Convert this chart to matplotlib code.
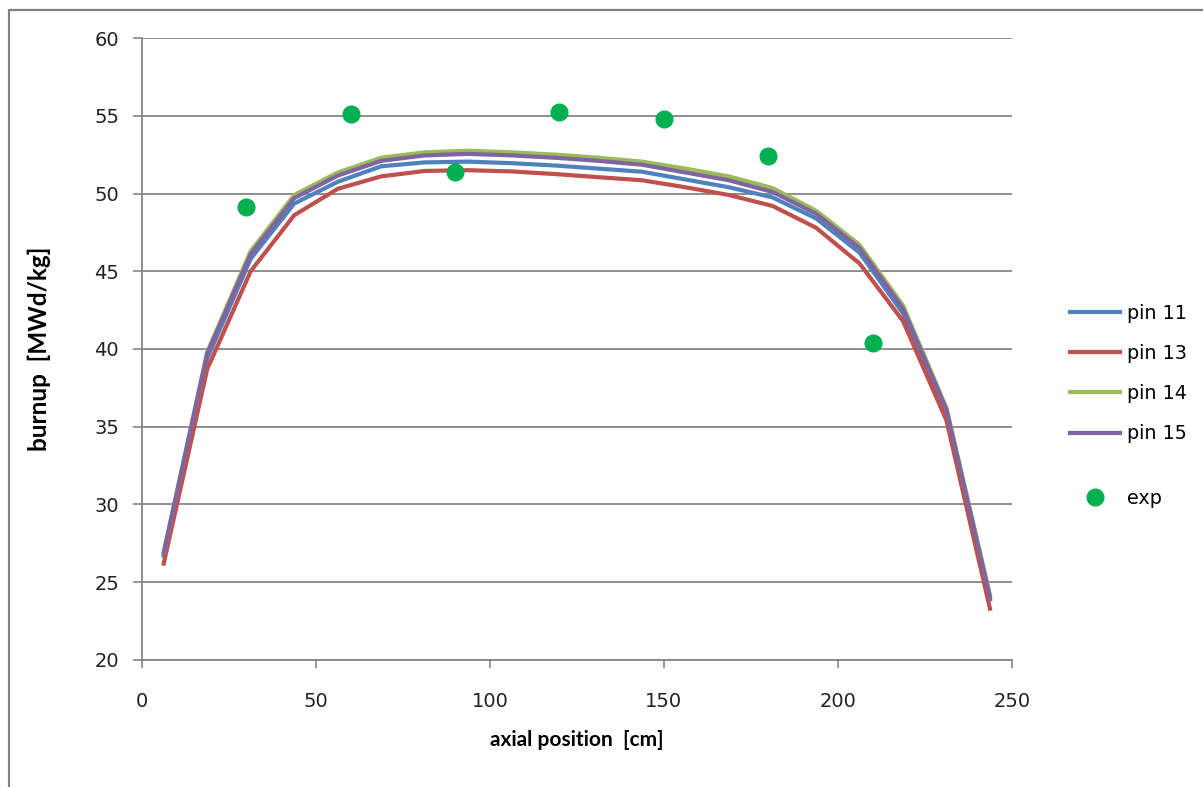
import numpy as np
import matplotlib.pyplot as plt
from matplotlib.patches import Rectangle

plt.rcParams['font.family'] = ['DejaVu Sans']

# axial nodes [cm]
z = [6.25, 18.75, 31.25, 43.75, 56.25, 68.75, 81.25, 93.75, 106.25, 118.75,
     131.25, 143.75, 156.25, 168.75, 181.25, 193.75, 206.25, 218.75, 231.25, 243.75]

pin11 = [26.7, 39.4, 45.8, 49.35, 50.75, 51.75, 52.0, 52.05, 51.95, 51.8,
         51.6, 51.4, 50.9, 50.4, 49.75, 48.4, 46.2, 42.3, 35.9, 23.9]
pin13 = [26.2, 38.7, 45.0, 48.6, 50.3, 51.1, 51.45, 51.5, 51.42, 51.25,
         51.05, 50.85, 50.4, 49.9, 49.2, 47.8, 45.5, 41.8, 35.4, 23.3]
pin14 = [26.9, 39.8, 46.3, 49.9, 51.35, 52.3, 52.65, 52.75, 52.65, 52.5,
         52.3, 52.05, 51.6, 51.1, 50.35, 48.9, 46.7, 42.8, 36.2, 24.2]
pin15 = [26.9, 39.7, 46.1, 49.7, 51.15, 52.1, 52.45, 52.55, 52.45, 52.3,
         52.1, 51.85, 51.35, 50.85, 50.1, 48.7, 46.5, 42.6, 36.1, 24.0]

exp_z = [30, 60, 90, 120, 150, 180, 210]
exp_bu = [49.1, 55.1, 51.4, 55.25, 54.8, 52.4, 40.4]

fig = plt.figure(figsize=(12.03, 7.87), dpi=100)
ax = fig.add_axes([0.118, 0.1614, 0.723, 0.7903])

lw = 3.0
l11, = ax.plot(z, pin11, color='#4F81BD', lw=lw, label='pin 11')
l13, = ax.plot(z, pin13, color='#C0504D', lw=lw, label='pin 13')
l14, = ax.plot(z, pin14, color='#9BBB59', lw=lw, label='pin 14')
l15, = ax.plot(z, pin15, color='#8064A2', lw=lw, label='pin 15')
pe, = ax.plot(exp_z, exp_bu, 'o', color='#00B050', ms=12, ls='none', label='exp')

ax.set_xlim(0, 250)
ax.set_ylim(20, 60)
ax.set_xticks(np.arange(0, 251, 50))
ax.set_yticks(np.arange(20, 61, 5))
ax.yaxis.grid(True, color='#868686', lw=1.3)
ax.set_axisbelow(True)
for s in ['top', 'right']:
    ax.spines[s].set_visible(False)
for s in ['left', 'bottom']:
    ax.spines[s].set_color('#868686')
    ax.spines[s].set_linewidth(1.3)
ax.tick_params(axis='y', length=6.5, width=1.2, color='#868686', pad=10,
               labelsize=14, labelcolor='#222222')
ax.tick_params(axis='x', length=6, width=1.2, color='#868686', pad=17,
               labelsize=14, labelcolor='#222222')

ax.set_xlabel('axial position  [cm]', fontsize=15, fontweight='bold',
              family=['Lato', 'DejaVu Sans'], labelpad=14)
ax.set_ylabel('burnup  [MWd/kg]', fontsize=17.5, fontweight='bold',
              family=['Lato', 'DejaVu Sans'], labelpad=31)

fig.legend(handles=[l11, l13, l14, l15], loc='upper left',
           bbox_to_anchor=(1070 / 1203, 1 - 304 / 787), frameon=False,
           fontsize=13.8, borderpad=0, borderaxespad=0,
           handlelength=2.6, handletextpad=0.35, labelspacing=1.1)
fig.legend(handles=[pe], loc='upper left',
           bbox_to_anchor=(1070 / 1203, 1 - 489 / 787), frameon=False,
           fontsize=13.8, borderpad=0, borderaxespad=0,
           handlelength=2.6, handletextpad=0.35)

fig.patches.append(Rectangle((9 / 1203, -0.1), 1.2, 1 - 10 / 787 + 0.1,
                             transform=fig.transFigure, fill=False,
                             edgecolor='#808080', lw=1.6))

fig.savefig('out.png', dpi=100)
